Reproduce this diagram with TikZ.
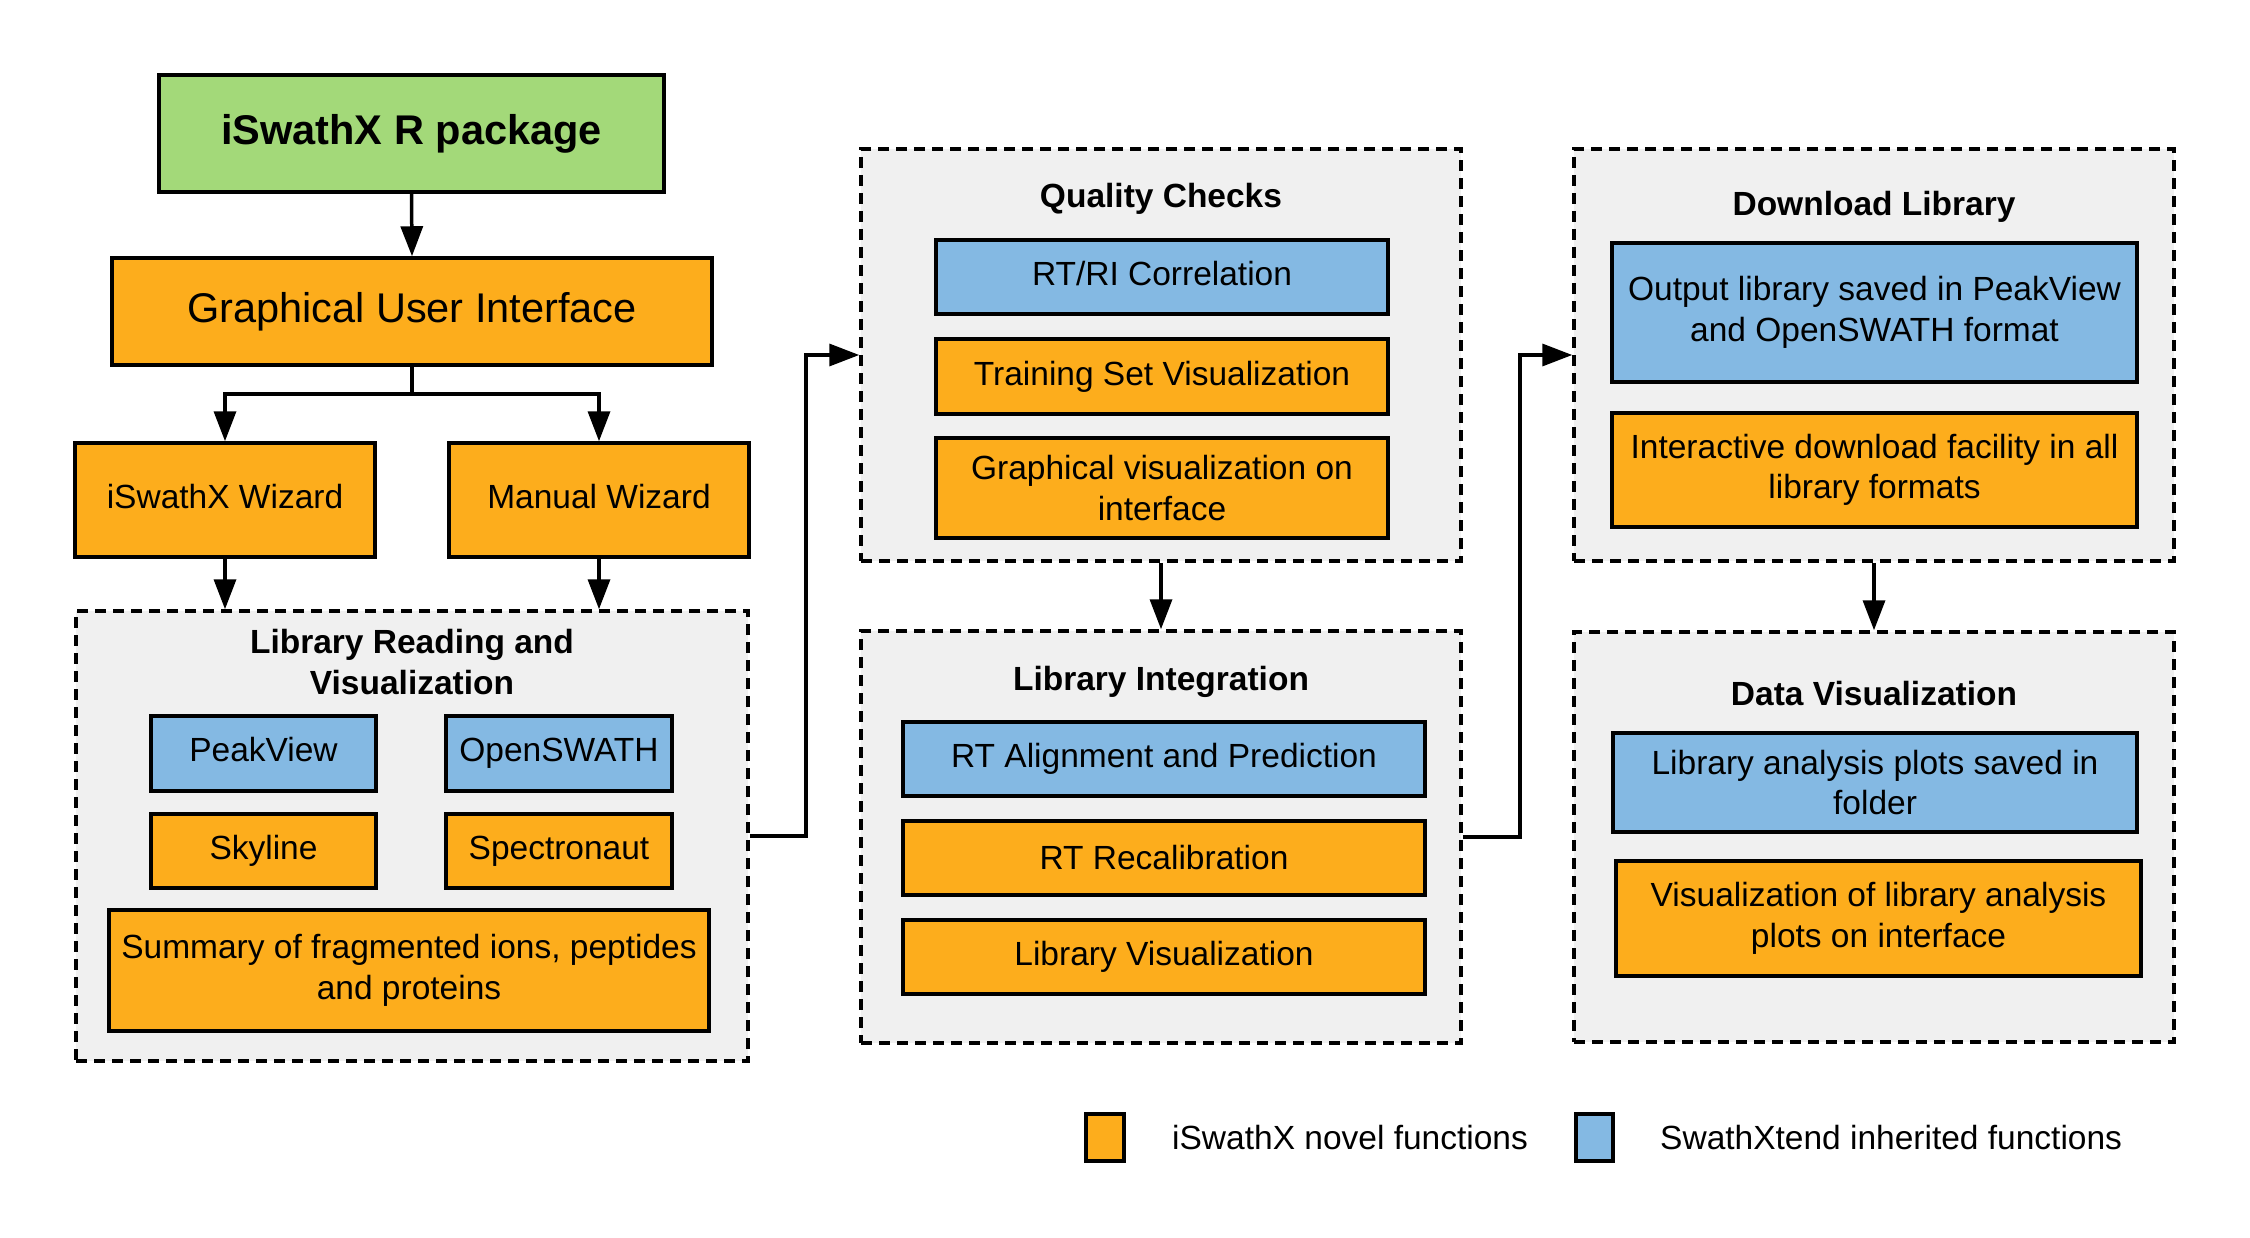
\documentclass[tikz,border=0pt]{standalone}
\usepackage{fontspec}
\setmainfont{Liberation Sans}
\usetikzlibrary{arrows.meta}
\definecolor{cgreen}{HTML}{A3D979}
\definecolor{corange}{HTML}{FDAD1C}
\definecolor{cblue}{HTML}{84B9E3}
\definecolor{cgray}{HTML}{F0F0F0}
\tikzset{
  base/.style={draw=black, line width=3.5pt, inner sep=0pt, align=center, font=\fontsize{33.5}{40.5}\selectfont},
  obox/.style={base, fill=corange},
  bbox/.style={base, fill=cblue},
  gbox/.style={base, fill=cgreen},
  raised/.style={text height=24.4pt, text depth=8pt},
  container/.style={draw=black, fill=cgray, line width=3.5pt, dash pattern=on 11pt off 7pt, inner sep=0pt},
  ttl/.style={inner sep=0pt, align=center, font=\fontsize{33.5}{40.5}\selectfont\bfseries},
  arr/.style={draw=black, line width=3.5pt, -{Triangle[length=30pt,width=22pt]}},
  legtxt/.style={inner sep=0pt, anchor=west, font=\fontsize{33.5}{40.5}\selectfont}
}
\begin{document}
\begin{tikzpicture}[x=1pt,y=-1pt]
\useasboundingbox[fill=white] (0,0) rectangle (2250,1238);

% containers
\node[container, minimum width=672pt, minimum height=450pt] (lrv) at (412,836) {};
\node[container, minimum width=600pt, minimum height=412pt] (qc) at (1161,355) {};
\node[container, minimum width=600pt, minimum height=412pt] (li) at (1161,837) {};
\node[container, minimum width=600pt, minimum height=412pt] (dl) at (1874,355) {};
\node[container, minimum width=600pt, minimum height=410pt] (dv) at (1874,837) {};

% top column
\node[gbox, minimum width=505pt, minimum height=117pt, font=\fontsize{41.5}{48}\selectfont\bfseries] (pkg) at (411.5,133.5) {iSwathX R package};
\node[obox, minimum width=600pt, minimum height=107pt, font=\fontsize{41.5}{48}\selectfont] (gui) at (412,311.5) {Graphical User Interface};
\node[obox, raised, minimum width=300pt, minimum height=114pt] (iwiz) at (225,500) {iSwathX Wizard};
\node[obox, raised, minimum width=300pt, minimum height=114pt] (mwiz) at (599,500) {Manual Wizard};

% library reading
\node[ttl] (lrvt) at (412,662) {Library Reading and\\Visualization};
\node[bbox, raised, minimum width=225pt, minimum height=75pt] (pv) at (263.5,753.5) {PeakView};
\node[bbox, minimum width=226pt, minimum height=75pt] (os) at (559,753.5) {OpenSWATH};
\node[obox, minimum width=225pt, minimum height=74pt] (sky) at (263.5,851) {Skyline};
\node[obox, minimum width=226pt, minimum height=74pt] (spe) at (559,851) {Spectronaut};
\node[obox, minimum width=600pt, minimum height=121pt] (sum) at (409,970.5) {Summary of fragmented ions, peptides\\and proteins};

% quality checks
\node[ttl] (qct) at (1161,199) {Quality Checks};
\node[bbox, raised, minimum width=452pt, minimum height=74pt] (rtri) at (1162,277) {RT/RI Correlation};
\node[obox, minimum width=452pt, minimum height=75pt] (tsv) at (1162,376.5) {Training Set Visualization};
\node[obox, minimum width=452pt, minimum height=100pt] (gvi) at (1162,488) {Graphical visualization on\\interface};

% library integration
\node[ttl] (lit) at (1161,682) {Library Integration};
\node[bbox, minimum width=522pt, minimum height=74pt] (rta) at (1164,759) {RT Alignment and Prediction};
\node[obox, minimum width=522pt, minimum height=74pt] (rtr) at (1164,858) {RT Recalibration};
\node[obox, minimum width=522pt, minimum height=74pt] (lvi) at (1164,957) {Library Visualization};

% download library
\node[ttl] (dlt) at (1874,207) {Download Library};
\node[bbox, minimum width=525pt, minimum height=139pt] (out) at (1874.5,312.5) {Output library saved in PeakView\\and OpenSWATH format};
\node[obox, minimum width=525pt, minimum height=114pt] (inter) at (1874.5,470) {Interactive download facility in all\\library formats};

% data visualization
\node[ttl] (dvt) at (1874,694) {Data Visualization};
\node[bbox, minimum width=524pt, minimum height=99pt] (lap) at (1875,782.5) {Library analysis plots saved in\\folder};
\node[obox, minimum width=525pt, minimum height=115pt] (vla) at (1878.5,918.5) {Visualization of library analysis\\plots on interface};

% legend
\node[obox, minimum width=38pt, minimum height=47pt] (lego) at (1105,1137.5) {};
\node[legtxt] (legot) at (1172,1138) {iSwathX novel functions};
\node[bbox, minimum width=37pt, minimum height=47pt] (legb) at (1594.5,1137.5) {};
\node[legtxt] (legbt) at (1660,1138) {SwathXtend inherited functions};

% connectors
\draw[arr] (pkg.south) -- (gui.north);
\draw[arr] (gui.south) -- ++(0,27) -| (iwiz.north);
\draw[arr] (gui.south) -- ++(0,27) -| (mwiz.north);
\draw[arr] (iwiz.south) -- (iwiz.south |- lrv.north);
\draw[arr] (mwiz.south) -- (mwiz.south |- lrv.north);
\draw[arr] (lrv.east) -- ++(56,0) |- (qc.west);
\draw[arr] (qc.south) -- (li.north);
\draw[arr] (li.east) -- ++(57,0) |- (dl.west);
\draw[arr] (dl.south) -- (dv.north);
\end{tikzpicture}
\end{document}
